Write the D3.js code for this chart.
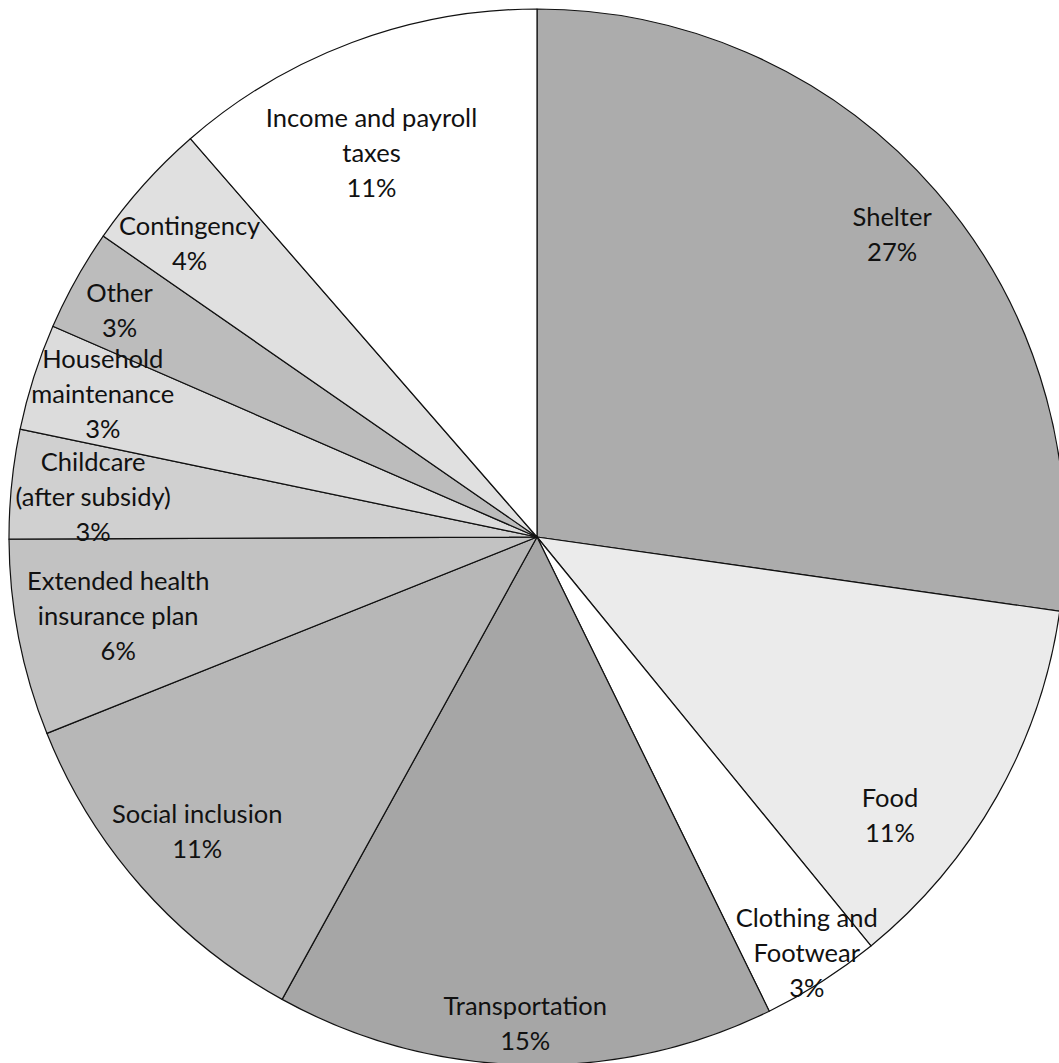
<!DOCTYPE html>
<html><head><meta charset="utf-8">
<script src="https://cdn.jsdelivr.net/npm/d3@7"></script>
<style>body{margin:0;background:#fff;overflow:hidden}</style>
</head><body><svg id="c" width="1059" height="1063"></svg>
<script>
// ---- data ----
const categories = ["Shelter","Food","Clothing and Footwear","Transportation","Social inclusion",
  "Extended health insurance plan","Childcare (after subsidy)","Household maintenance","Other",
  "Contingency","Income and payroll taxes"];
const shares = [27.25, 11.86, 3.65, 15.27, 10.92, 6.0, 3.34, 3.26, 3.12, 3.95, 11.4];
const percentLabels = ["27%","11%","3%","15%","11%","6%","3%","3%","3%","4%","11%"];
const labelLines = [["Shelter"],["Food"],["Clothing and","Footwear"],["Transportation"],["Social inclusion"],
  ["Extended health","insurance plan"],["Childcare","(after subsidy)"],["Household","maintenance"],["Other"],
  ["Contingency"],["Income and payroll","taxes"]];

// ---- style / layout ----
const fills = ["#acacac","#ebebeb","#ffffff","#a6a6a6","#b7b7b7","#c2c2c2","#d0d0d0","#dcdcdc","#bcbcbc","#e0e0e0","#ffffff"];
const labelRadius = [0.884,0.852,0.939,0.922,0.851,0.807,0.844,0.866,0.899,0.861,0.792];
const labelNudge = [0.5,8.9,-0.3,0,0.6,0.4,-0.6,0.6,-0.7,-1.7,-2.8];

const W = 1059, H = 1063, cx = 537, cy = 537, R = 528;
const svg = d3.select("#c");
const g = svg.append("g").attr("transform", `translate(${cx},${cy})`);

const pie = d3.pie().sort(null).value(d => d).startAngle(0).endAngle(2*Math.PI);
const arcs = pie(shares);
const arc = d3.arc().innerRadius(0).outerRadius(R);

g.selectAll("path.slice").data(arcs).join("path")
  .attr("class","slice")
  .attr("d", arc)
  .attr("fill", (d,i) => fills[i])
  .attr("stroke", "#111")
  .attr("stroke-width", 1.2)
  .attr("stroke-linejoin","round");

const lineH = 35;
g.selectAll("text.lab").data(arcs).join("text")
  .attr("class","lab")
  .attr("font-family","Lato, 'Open Sans', sans-serif")
  .attr("font-size", 25.5)
  .attr("fill","#111")
  .attr("text-anchor","middle")
  .each(function(d,i){
    const a = (d.startAngle + d.endAngle)/2 + labelNudge[i]*Math.PI/180;
    const r = R*labelRadius[i];
    const x = Math.sin(a)*r, y = -Math.cos(a)*r;
    const lines = labelLines[i].concat([percentLabels[i]]);
    const y0 = y - (lines.length-1)*lineH/2 + 9;
    const t = d3.select(this);
    lines.forEach((s,k) => {
      t.append("tspan").attr("x", x).attr("y", y0 + k*lineH).text(s);
    });
  });
</script></body></html>
